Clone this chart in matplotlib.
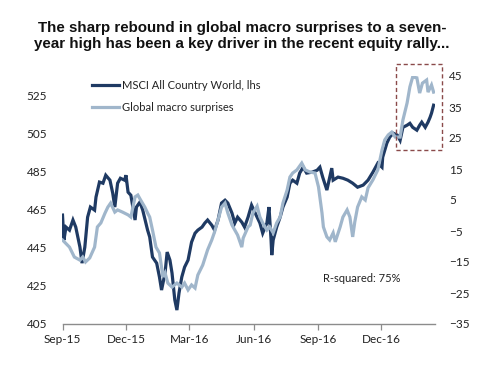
import matplotlib
matplotlib.use("Agg")
import matplotlib.pyplot as plt
import matplotlib.dates as mdates
from matplotlib.patches import Rectangle
import pandas as pd

# ---------------- data ----------------
msci_dates = [
    "2015-09-01", "2015-09-03", "2015-09-06", "2015-09-11", "2015-09-16", "2015-09-20",
    "2015-09-26", "2015-09-29", "2015-10-03", "2015-10-07", "2015-10-11", "2015-10-17",
    "2015-10-19", "2015-10-24", "2015-10-29", "2015-11-02", "2015-11-08", "2015-11-12",
    "2015-11-15", "2015-11-19", "2015-11-23", "2015-11-29", "2015-12-01", "2015-12-04",
    "2015-12-08", "2015-12-14", "2015-12-16", "2015-12-21", "2015-12-25", "2016-01-01",
    "2016-01-04", "2016-01-08", "2016-01-14", "2016-01-18", "2016-01-21", "2016-01-26",
    "2016-01-29", "2016-02-02", "2016-02-05", "2016-02-09", "2016-02-12", "2016-02-15",
    "2016-02-19", "2016-02-23", "2016-02-28", "2016-03-04", "2016-03-09", "2016-03-13",
    "2016-03-19", "2016-03-23", "2016-03-27", "2016-04-02", "2016-04-06", "2016-04-11",
    "2016-04-16", "2016-04-21", "2016-04-25", "2016-05-01", "2016-05-05", "2016-05-09",
    "2016-05-15", "2016-05-19", "2016-05-24", "2016-05-29", "2016-06-06", "2016-06-10",
    "2016-06-14", "2016-06-20", "2016-06-23", "2016-06-26", "2016-06-27", "2016-06-29",
    "2016-07-04", "2016-07-09", "2016-07-13", "2016-07-19", "2016-07-23", "2016-07-27",
    "2016-08-02", "2016-08-06", "2016-08-11", "2016-08-16", "2016-08-24", "2016-08-31",
    "2016-09-04", "2016-09-08", "2016-09-14", "2016-09-21", "2016-09-23", "2016-09-30",
    "2016-10-07", "2016-10-14", "2016-10-21", "2016-10-28", "2016-11-05", "2016-11-12",
    "2016-11-19", "2016-11-26", "2016-12-02", "2016-12-03", "2016-12-09", "2016-12-13",
    "2016-12-18", "2016-12-24", "2016-12-28", "2017-01-01", "2017-01-07", "2017-01-11",
    "2017-01-15", "2017-01-21", "2017-01-25", "2017-01-28", "2017-02-02", "2017-02-06",
    "2017-02-09", "2017-02-11", "2017-02-14",
]
msci_values = [
    462.1, 449.0, 455.8, 454.2, 459.5, 455.8,
    445.3, 436.9, 445.3, 461.0, 466.3, 464.7,
    471.5, 479.4, 478.8, 483.0, 480.4, 473.6,
    466.3, 478.8, 481.4, 480.4, 483.0, 474.1,
    472.5, 459.5, 466.3, 468.9, 464.7, 454.2,
    450.6, 440.1, 436.9, 429.6, 422.8, 431.7,
    442.7, 438.5, 431.7, 417.6, 412.3, 421.2,
    429.6, 434.8, 438.5, 447.9, 452.6, 454.2,
    455.8, 457.9, 459.5, 456.8, 454.2, 459.5,
    468.4, 469.9, 468.4, 463.1, 457.9, 461.0,
    458.4, 455.8, 461.0, 467.3, 461.0, 457.9,
    452.6, 457.9, 466.3, 449.0, 441.1, 449.0,
    455.8, 461.0, 466.3, 471.5, 478.8, 480.4,
    478.8, 484.1, 487.2, 484.1, 484.6, 485.6,
    487.2, 482.0, 475.2, 486.7, 480.4, 482.0,
    481.4, 480.4, 478.8, 476.7, 477.8, 480.4,
    484.6, 489.3, 487.2, 492.4, 499.8, 502.9,
    505.0, 504.0, 501.3, 508.1, 509.2, 510.2,
    508.1, 506.6, 509.2, 510.8, 508.1, 510.8,
    513.4, 515.5, 519.7,
]

macro_dates = [
    "2015-09-01", "2015-09-11", "2015-09-18", "2015-09-26", "2015-09-30", "2015-10-04",
    "2015-10-10", "2015-10-17", "2015-10-21", "2015-10-26", "2015-11-01", "2015-11-05",
    "2015-11-09", "2015-11-15", "2015-11-19", "2015-11-26", "2015-12-04", "2015-12-08",
    "2015-12-14", "2015-12-18", "2015-12-22", "2015-12-28", "2016-01-01", "2016-01-04",
    "2016-01-08", "2016-01-13", "2016-01-18", "2016-01-23", "2016-01-26", "2016-01-30",
    "2016-02-05", "2016-02-12", "2016-02-19", "2016-02-23", "2016-02-28", "2016-03-04",
    "2016-03-09", "2016-03-13", "2016-03-20", "2016-03-27", "2016-04-02", "2016-04-06",
    "2016-04-11", "2016-04-16", "2016-04-21", "2016-04-25", "2016-05-01", "2016-05-05",
    "2016-05-09", "2016-05-15", "2016-05-17", "2016-05-24", "2016-05-27", "2016-05-31",
    "2016-06-06", "2016-06-10", "2016-06-14", "2016-06-20", "2016-06-24", "2016-06-29",
    "2016-07-04", "2016-07-09", "2016-07-13", "2016-07-19", "2016-07-23", "2016-07-27",
    "2016-08-02", "2016-08-09", "2016-08-14", "2016-08-21", "2016-08-28", "2016-09-02",
    "2016-09-07", "2016-09-09", "2016-09-14", "2016-09-18", "2016-09-23", "2016-09-26",
    "2016-10-03", "2016-10-07", "2016-10-13", "2016-10-17", "2016-10-21", "2016-10-24",
    "2016-10-28", "2016-11-03", "2016-11-08", "2016-11-12", "2016-11-19", "2016-11-26",
    "2016-12-02", "2016-12-06", "2016-12-11", "2016-12-16", "2016-12-21", "2016-12-28",
    "2017-01-01", "2017-01-07", "2017-01-11", "2017-01-15", "2017-01-21", "2017-01-25",
    "2017-01-29", "2017-02-04", "2017-02-06", "2017-02-11", "2017-02-14",
]
macro_values = [
    -7.9, -10.2, -13.4, -14.4, -13.4, -15.0,
    -13.7, -10.2, -3.7, -2.4, 0.8, 2.7,
    4.0, 1.1, 1.8, 1.1, 0.2, -0.5,
    6.0, 6.6, 5.0, 2.7, 0.8, -0.5,
    -4.7, -10.2, -12.1, -19.8, -18.5, -21.8,
    -23.1, -21.8, -23.1, -21.8, -24.0, -22.4,
    -23.4, -19.2, -16.0, -11.1, -7.9, -5.3,
    -1.4, 2.7, 4.0, 0.8, -3.1, -4.7,
    -6.3, -10.2, -7.3, -3.7, -3.1, 0.8,
    3.0, -0.5, -2.4, -4.7, -3.7, -5.6,
    -2.4, -0.5, 4.0, 8.2, 12.4, 13.7,
    14.7, 16.9, 14.7, 14.0, 13.7, 9.2,
    0.8, -3.7, -6.9, -7.9, -5.6, -8.5,
    -3.7, -0.5, 1.8, -0.5, -6.9, -2.1,
    2.7, 6.0, 5.0, 8.9, 11.5, 14.7,
    21.1, 24.4, 26.0, 26.9, 25.3, 25.3,
    30.8, 36.3, 41.5, 44.7, 44.4, 39.5,
    42.7, 43.7, 39.8, 42.1, 39.8,
]

left_ticks = [405, 425, 445, 465, 485, 505, 525]
right_ticks = [-35, -25, -15, -5, 5, 15, 25, 35, 45]
x_tick_dates = ["2015-09-01", "2015-12-01", "2016-03-01", "2016-06-01", "2016-09-01", "2016-12-01"]
x_range = ["2015-09-01", "2017-02-16"]

title_text = ("The sharp rebound in global macro surprises to a seven-\n"
              "year high has been a key driver in the recent equity rally...")
label_msci = "MSCI All Country World, lhs"
label_macro = "Global macro surprises"
note_text = "R-squared: 75%"

# ---------------- styling ----------------
DARK = "#1f3a63"
LIGHT = "#a0b6cb"
TXT = "#222222"
FONT = ["Lato", "DejaVu Sans"]

plt.rcParams["font.family"] = FONT

W, H = 499, 371
fig = plt.figure(figsize=(W / 100, H / 100), dpi=100)
fig.patch.set_facecolor("white")

x0, x1, yb, yt = 62.5, 435, 324, 76
ax = fig.add_axes([x0 / W, 1 - yb / H, (x1 - x0) / W, (yb - yt) / H])
ax2 = ax.twinx()

md = pd.to_datetime(msci_dates)
gd = pd.to_datetime(macro_dates)

l1, = ax.plot(md, msci_values, color=DARK, lw=2.3, solid_joinstyle="miter", label=label_msci)
l2, = ax2.plot(gd, macro_values, color=LIGHT, lw=2.3, solid_joinstyle="miter", label=label_macro)

ax.set_xlim(pd.Timestamp(x_range[0]), pd.Timestamp(x_range[1]))
ax.set_ylim(405, 535)
ax2.set_ylim(-35, 45)

ax.set_yticks(left_ticks)
ax2.set_yticks(right_ticks)
ax.set_xticks(pd.to_datetime(x_tick_dates))
ax.xaxis.set_major_formatter(mdates.DateFormatter("%b-%y"))

for a in (ax, ax2):
    for s in a.spines.values():
        s.set_visible(False)
    a.set_facecolor("none")
ax.spines["bottom"].set_visible(True)
ax.spines["bottom"].set_color("#8c8c8c")
ax.spines["bottom"].set_linewidth(1.0)

ax.tick_params(axis="x", length=4, width=0.9, color="#8c8c8c", labelsize=8.5,
               labelcolor=TXT, pad=3)
ax.tick_params(axis="y", length=0, labelsize=8.5, labelcolor=TXT, pad=11)
ax2.tick_params(axis="y", length=0, labelsize=8.5, labelcolor=TXT, pad=10)

# legend
leg = ax2.legend(handles=[l1, l2], loc="upper left",
                 bbox_to_anchor=((92 - x0) / (x1 - x0), (yb - 80) / (yb - yt)),
                 frameon=False, fontsize=8, handlelength=2.45, handletextpad=0.25,
                 labelspacing=0.95, borderpad=0, borderaxespad=0)
for t in leg.get_texts():
    t.set_color(TXT)

# note
ax2.text((323 - x0) / (x1 - x0), (yb - 278) / (yb - yt), note_text, transform=ax2.transAxes,
         fontsize=8, color=TXT, ha="left", va="center")

# title
fig.text(242 / W, 1 - 36 / H, title_text, ha="center", va="center", fontsize=10.9,
         fontweight="bold", family=["Liberation Sans", "DejaVu Sans"], color="#111111",
         linespacing=1.2)

# dashed highlight box
fig.patches.append(Rectangle((396 / W, 1 - 150 / H), (442 - 396) / W, (150 - 64) / H,
                             transform=fig.transFigure, fill=False, edgecolor="#8a4a4a",
                             lw=1.0, ls=(0, (3, 2))))

fig.savefig("out.png", dpi=100, facecolor="white")
